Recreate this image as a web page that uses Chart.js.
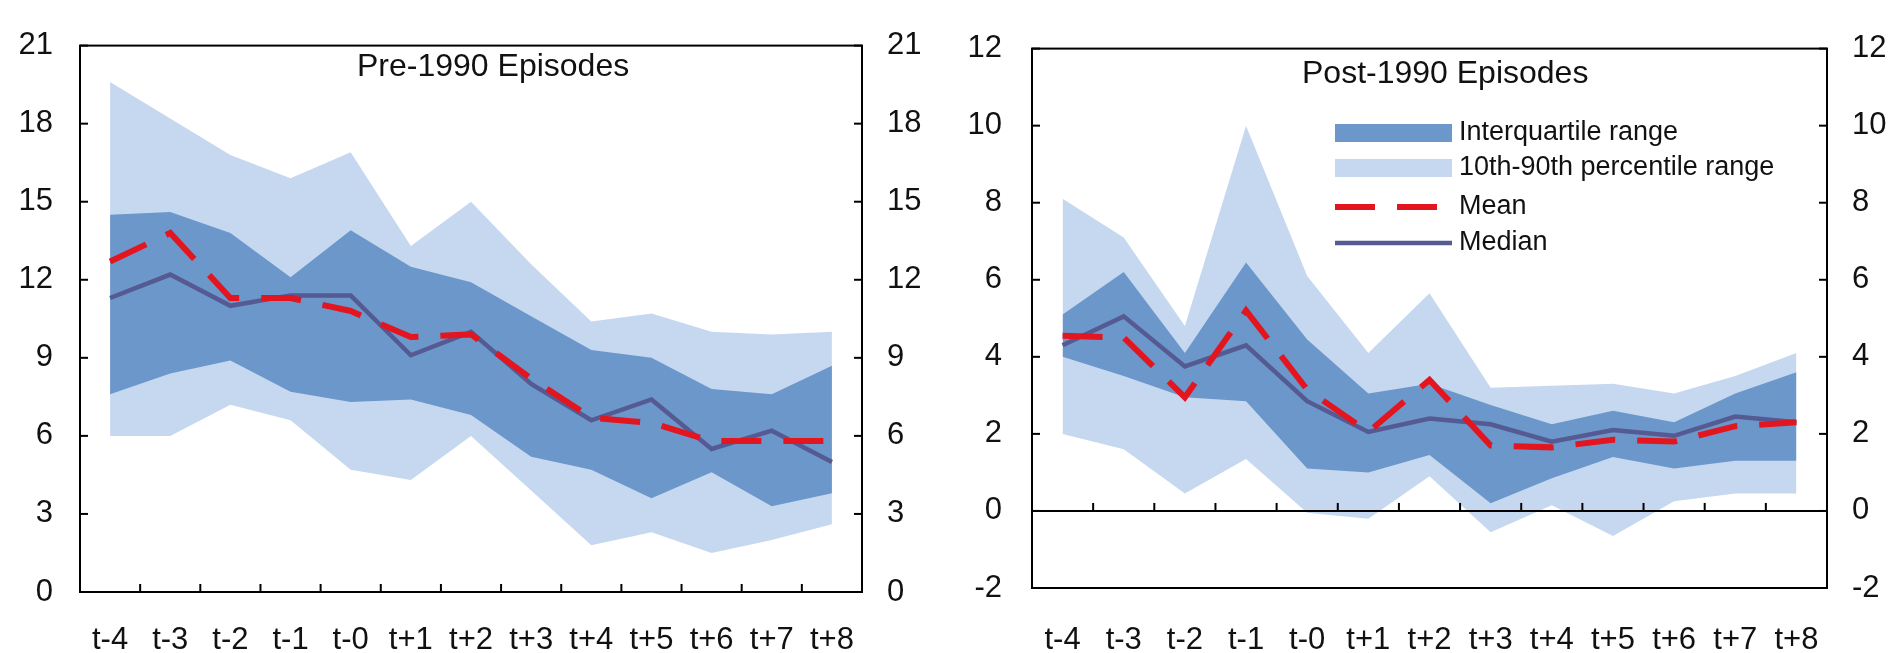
<!DOCTYPE html>
<html>
<head>
<meta charset="utf-8">
<script src="https://cdn.jsdelivr.net/npm/chart.js@4.4.1/dist/chart.umd.min.js"></script>
<style>
  html, body { margin: 0; padding: 0; background: #fff; }
  body { width: 1888px; height: 653px; position: relative; overflow: hidden; }
  canvas { position: absolute; top: 0; }
  #c1 { left: 0; }
  #c2 { left: 944px; }
</style>
</head>
<body>
<canvas id="c1" width="944" height="653"></canvas>
<canvas id="c2" width="944" height="653"></canvas>
<script>
// ---- data ----
const categories = ['t-4','t-3','t-2','t-1','t-0','t+1','t+2','t+3','t+4','t+5','t+6','t+7','t+8'];

const prePct90  = [19.6, 18.2, 16.8, 15.9, 16.9, 13.3, 15.0, 12.6, 10.4, 10.7, 10.0, 9.9, 10.0];
const prePct75  = [14.5, 14.6, 13.8, 12.1, 13.9, 12.5, 11.9, 10.6, 9.3, 9.0, 7.8, 7.6, 8.7];
const prePct25  = [7.6, 8.4, 8.9, 7.7, 7.3, 7.4, 6.8, 5.2, 4.7, 3.6, 4.6, 3.3, 3.8];
const prePct10  = [6.0, 6.0, 7.2, 6.6, 4.7, 4.3, 6.0, 3.9, 1.8, 2.3, 1.5, 2.0, 2.6];
const preMedian = [11.3, 12.2, 11.0, 11.4, 11.4, 9.1, 10.0, 8.0, 6.6, 7.4, 5.5, 6.2, 5.0];
const preMean   = [12.7, 13.8, 11.3, 11.3, 10.8, 9.8, 9.9, 8.2, 6.7, 6.5, 5.8, 5.8, 5.8];

const postPct90  = [8.1, 7.1, 4.8, 10.0, 6.1, 4.1, 5.65, 3.2, 3.25, 3.3, 3.05, 3.5, 4.1];
const postPct75  = [5.1, 6.2, 4.1, 6.45, 4.45, 3.05, 3.3, 2.75, 2.25, 2.6, 2.3, 3.05, 3.6];
const postPct25  = [4.0, 3.5, 2.95, 2.85, 1.1, 1.0, 1.45, 0.2, 0.85, 1.4, 1.1, 1.3, 1.3];
const postPct10  = [2.0, 1.6, 0.45, 1.35, -0.05, -0.2, 0.9, -0.55, 0.15, -0.65, 0.25, 0.45, 0.45];
const postMedian = [4.3, 5.05, 3.75, 4.3, 2.85, 2.05, 2.4, 2.25, 1.8, 2.1, 1.95, 2.45, 2.3];
const postMean   = [4.55, 4.5, 2.95, 5.2, 3.15, 2.05, 3.4, 1.7, 1.65, 1.85, 1.8, 2.2, 2.3];

const preTicks  = { min: 0, max: 21, step: 3 };
const postTicks = { min: -2, max: 12, step: 2 };

const legendLabels = ['Interquartile range', '10th-90th percentile range', 'Mean', 'Median'];

// ---- styles ----
const LIGHT = '#c6d8ef';
const DARK  = '#6b97cb';
const RED   = '#e3161f';
const MED   = '#555a92';
const TXT   = '#111111';
const FONT  = '"Liberation Sans", Arial, sans-serif';
const DASH  = [40, 22];

const framePlugin = {
  id: 'frame',
  afterDatasetsDraw(chart, args, o) {
    const { ctx, chartArea: a, scales } = chart;
    const ys = scales.y, xs = scales.x;
    ctx.save();
    ctx.strokeStyle = '#000';
    ctx.lineWidth = 2;
    const line = (x1, y1, x2, y2) => { ctx.beginPath(); ctx.moveTo(x1, y1); ctx.lineTo(x2, y2); ctx.stroke(); };
    let baseY = a.bottom;
    if (o.zeroLine) {
      baseY = ys.getPixelForValue(0);
      line(a.left, baseY, a.right, baseY);
    }
    ctx.strokeRect(a.left, a.top, a.right - a.left, a.bottom - a.top);
    for (let i = 1; i < xs.ticks.length; i++) {
      const px = (xs.getPixelForTick(i - 1) + xs.getPixelForTick(i)) / 2;
      line(px, baseY, px, baseY - 8);
    }
    ys.ticks.forEach(t => {
      const py = ys.getPixelForValue(t.value);
      line(a.left, py, a.left + 8, py);
      line(a.right, py, a.right - 8, py);
    });
    // title
    ctx.fillStyle = TXT;
    ctx.font = '32px ' + FONT;
    ctx.textAlign = 'left';
    ctx.textBaseline = 'alphabetic';
    ctx.fillText(o.title, a.left + o.titleDx, o.titleY);
    // legend
    if (o.legend) {
      const lx = a.left + 303, lw = 117;
      ctx.fillStyle = DARK;  ctx.fillRect(lx, 124, lw, 18);
      ctx.fillStyle = LIGHT; ctx.fillRect(lx, 159, lw, 18);
      ctx.strokeStyle = RED; ctx.lineWidth = 6; ctx.setLineDash(DASH); ctx.lineCap = 'butt';
      line(lx, 207, lx + 104, 207);
      ctx.setLineDash([]);
      ctx.strokeStyle = MED; ctx.lineWidth = 4.5;
      line(lx, 243, lx + lw, 243);
      ctx.fillStyle = TXT;
      ctx.font = '27px ' + FONT;
      ctx.textBaseline = 'middle';
      const ty = [133, 168, 207, 243];
      legendLabels.forEach((s, i) => ctx.fillText(s, lx + lw + 7, ty[i]));
    }
    ctx.restore();
  }
};

function makeChart(id, d) {
  const tickFont = { family: FONT, size: 31 };
  const yScale = (pos, w, pad) => ({
    position: pos,
    min: d.ticks.min, max: d.ticks.max,
    ticks: { stepSize: d.ticks.step, font: tickFont, color: TXT, padding: pad },
    grid: { display: false, drawTicks: false },
    border: { display: false },
    afterFit(s) { s.width = w; }
  });
  return new Chart(document.getElementById(id), {
    type: 'line',
    data: {
      labels: categories,
      datasets: [
        { label: 'Mean', data: d.mean, borderColor: RED, borderWidth: 6, borderDash: DASH, borderCapStyle: 'butt', pointRadius: 0, fill: false, tension: 0 },
        { label: 'Median', data: d.median, borderColor: MED, borderWidth: 4.5, pointRadius: 0, fill: false, tension: 0 },
        { label: 'Interquartile range', data: d.p75, borderColor: 'rgba(0,0,0,0)', borderWidth: 0, pointRadius: 0, backgroundColor: DARK, fill: '+1', tension: 0 },
        { label: '25th', data: d.p25, borderColor: 'rgba(0,0,0,0)', borderWidth: 0, pointRadius: 0, fill: false, tension: 0 },
        { label: '10th-90th percentile range', data: d.p90, borderColor: 'rgba(0,0,0,0)', borderWidth: 0, pointRadius: 0, backgroundColor: LIGHT, fill: '+1', tension: 0 },
        { label: '10th', data: d.p10, borderColor: 'rgba(0,0,0,0)', borderWidth: 0, pointRadius: 0, fill: false, tension: 0 }
      ]
    },
    options: {
      responsive: false,
      animation: false,
      devicePixelRatio: 1,
      layout: { padding: { top: d.top, left: 0, right: 0, bottom: 0 } },
      plugins: {
        legend: { display: false },
        tooltip: { enabled: false },
        frame: { title: d.title, titleDx: d.titleDx, titleY: d.titleY, zeroLine: d.zeroLine, legend: d.legend }
      },
      scales: {
        x: {
          type: 'category', offset: true,
          grid: { display: false, drawTicks: false },
          border: { display: false },
          ticks: { font: tickFont, color: TXT, padding: d.xPad, maxRotation: 0, autoSkip: false },
          afterFit(s) { s.height = d.xh; }
        },
        y: yScale('left', d.yl, d.ylPad),
        y2: yScale('right', d.yr, 25)
      }
    },
    plugins: [framePlugin]
  });
}

makeChart('c1', {
  p90: prePct90, p75: prePct75, p25: prePct25, p10: prePct10, median: preMedian, mean: preMean,
  ticks: preTicks, top: 30, xh: 61, yl: 80, yr: 82, ylPad: 27, xPad: 30,
  title: 'Pre-1990 Episodes', titleDx: 277, titleY: 76, zeroLine: false, legend: false
});
makeChart('c2', {
  p90: postPct90, p75: postPct75, p25: postPct25, p10: postPct10, median: postMedian, mean: postMean,
  ticks: postTicks, top: 28, xh: 65, yl: 88, yr: 61, ylPad: 30, xPad: 34,
  title: 'Post-1990 Episodes', titleDx: 270, titleY: 83, zeroLine: true, legend: true
});
</script>
</body>
</html>
